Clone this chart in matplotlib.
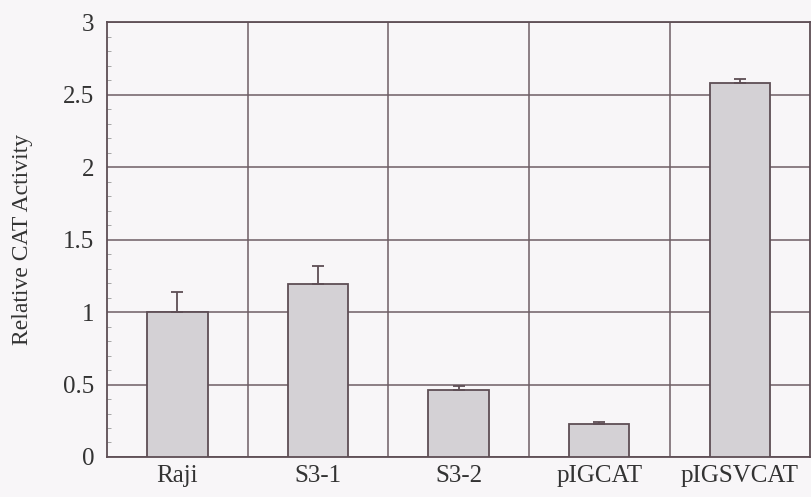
import matplotlib.pyplot as plt
from matplotlib.ticker import MultipleLocator

categories = ['Raji', 'S3-1', 'S3-2', 'pIGCAT', 'pIGSVCAT']
activity = [1.0, 1.19, 0.46, 0.23, 2.58]
errors = [0.14, 0.13, 0.03, 0.01, 0.03]

plt.rcParams['font.family'] = ['Liberation Serif', 'DejaVu Serif']

edge = '#5e4e55'
fig = plt.figure(figsize=(8.11, 4.97), dpi=100, facecolor='#f8f6f8')
ax = fig.add_axes([0.132, 0.0805, 0.867, 0.875])
ax.set_facecolor('#f8f6f8')

x = range(len(categories))
ax.bar(x, activity, width=0.43, color='#d4d1d5', edgecolor=edge, linewidth=1.3,
       zorder=3)
ax.errorbar(x, activity, yerr=[[0] * len(errors), errors], fmt='none',
            ecolor=edge, elinewidth=1.3, capsize=4, capthick=1.3, zorder=4)

ax.set_xlim(-0.5, len(categories) - 0.5)
ax.set_ylim(0, 3)
ax.set_yticks([0, 0.5, 1, 1.5, 2, 2.5, 3])
ax.set_yticklabels(['0', '0.5', '1', '1.5', '2', '2.5', '3'])
ax.yaxis.set_minor_locator(MultipleLocator(0.1))
ax.set_xticks(list(x))
ax.set_xticklabels(categories)
ax.set_xticks([i + 0.5 for i in range(len(categories) - 1)], minor=True)

ax.grid(True, which='major', axis='y', color='#6e5e65', linewidth=1.1, zorder=1)
ax.grid(True, which='minor', axis='x', color='#6e5e65', linewidth=1.1, zorder=1)

ax.tick_params(axis='x', which='both', length=0, labelsize=18, pad=6, colors='#333')
ax.tick_params(axis='y', which='major', length=0, labelsize=18, pad=9, colors='#333')
ax.tick_params(axis='y', which='minor', length=3, direction='in', color='#999')
for s in ax.spines.values():
    s.set_color(edge)
    s.set_linewidth(1.3)

ax.set_ylabel('Relative CAT Activity', fontsize=17, color='#333', labelpad=22)

plt.savefig('out.png', dpi=100, facecolor=fig.get_facecolor())
